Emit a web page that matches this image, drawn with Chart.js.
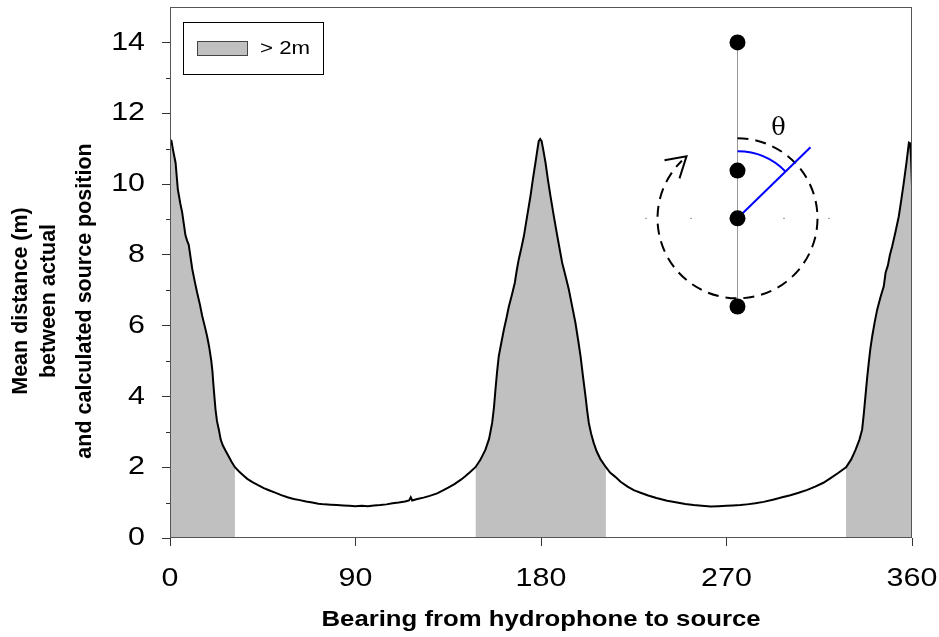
<!DOCTYPE html>
<html>
<head>
<meta charset="utf-8">
<script src="https://cdn.jsdelivr.net/npm/chart.js@4/dist/chart.umd.min.js"></script>
<style>
  body { margin: 0; background: #fff; }
  #wrap { width: 939px; height: 637px; }
</style>
</head>
<body>
<div id="wrap"><canvas id="chart" width="939" height="637"></canvas></div>
<script>
// bearing (deg) vs mean distance (m)
const bearing = [
  0, 0.7, 1.5, 2.7, 3.8, 5.0, 5.9, 7.5, 8.3, 9.1, 10.8, 12.0, 13.2, 14.5, 15.6, 17.0, 18.0, 19.0, 20.0, 20.6,
  21.0, 21.6, 22.1, 22.8, 23.7, 24.6, 25.6, 26.9, 28.5, 30.0, 31.5, 33.5, 35.5, 37.5, 40, 42.5, 45.5, 48, 51, 54,
  57, 60, 63, 66, 69, 72, 75, 78, 81, 84, 87, 90, 93, 96, 99, 102, 105, 108, 111, 114,
  116, 116.8, 117.5, 120, 123, 126, 129.6, 132, 135, 138, 141, 143.4, 145.5, 148.2, 150.5, 153, 154.8, 156.3, 157.2, 157.9,
  158.7, 159.5, 160.7, 162, 163.2, 164.4, 165.8, 167.3, 168.2, 169.2, 170.5, 171.7, 173.3, 174.9, 176.1, 177.3, 178.2, 178.9, 179.6, 180.3,
  181, 182.2, 183.4, 184.6, 186.2, 187.9, 189.1, 190.3, 191.9, 193.5, 195.1, 196.7, 198, 199.2, 200.4, 201.6, 202.4, 203.2, 204.3, 205.6,
  207, 208.9, 211.5, 213.5, 216.2, 218.6, 222, 225, 228.3, 232, 236, 241.2, 246, 250, 254, 258, 262.3, 266, 270, 273,
  276.8, 280, 284, 288, 293, 297, 301, 305, 309.2, 313, 317, 320.5, 324, 328, 330.5, 332.6, 334.5, 335.8, 336.6, 337.4,
  338.2, 339, 339.8, 340.7, 341.9, 343.1, 344.7, 346.3, 347.2, 348.3, 349.3, 350.4, 352, 353.6, 354.8, 356, 357.3, 358.5, 359.1, 359.5,
  360
];
const meanDist = [
  11.25, 11.22, 10.95, 10.6, 9.85, 9.45, 9.2, 8.55, 8.4, 8.28, 7.6, 7.25, 6.92, 6.6, 6.28, 5.95, 5.7, 5.4, 5.02, 4.7,
  4.38, 3.95, 3.62, 3.3, 3.06, 2.78, 2.62, 2.47, 2.3, 2.14, 2.0, 1.88, 1.77, 1.67, 1.58, 1.5, 1.41, 1.35, 1.28, 1.21,
  1.15, 1.1, 1.07, 1.03, 1.0, 0.97, 0.95, 0.94, 0.93, 0.92, 0.91, 0.9, 0.91, 0.9, 0.92, 0.93, 0.95, 0.98, 1.0, 1.03,
  1.06, 1.15, 1.06, 1.1, 1.14, 1.19, 1.26, 1.33, 1.42, 1.52, 1.64, 1.75, 1.86, 2.0, 2.2, 2.49, 2.8, 3.25, 3.7, 4.19,
  4.7, 5.13, 5.5, 5.89, 6.2, 6.54, 6.85, 7.21, 7.55, 7.87, 8.2, 8.53, 9.1, 9.66, 10.15, 10.6, 10.95, 11.21, 11.27, 11.21,
  11.0, 10.6, 10.1, 9.66, 9.1, 8.53, 8.15, 7.77, 7.4, 7.02, 6.55, 6.08, 5.6, 5.13, 4.55, 4.0, 3.6, 3.25, 2.95, 2.68,
  2.45, 2.22, 2.0, 1.85, 1.72, 1.59, 1.45, 1.35, 1.28, 1.2, 1.13, 1.05, 1.0, 0.96, 0.93, 0.91, 0.89, 0.9, 0.91, 0.92,
  0.93, 0.95, 0.98, 1.02, 1.09, 1.15, 1.21, 1.28, 1.36, 1.45, 1.56, 1.69, 1.83, 2.0, 2.22, 2.49, 2.78, 3.06, 3.5, 4.0,
  4.5, 4.94, 5.35, 5.7, 6.1, 6.45, 6.8, 7.11, 7.5, 7.7, 8.0, 8.24, 8.65, 9.09, 9.55, 10.03, 10.6, 11.17, 11.15, 10.8,
  9.95
];
const threshold = 2;
const xTicks = [0, 90, 180, 270, 360];
const yTicks = [0, 2, 4, 6, 8, 10, 12, 14];
const shadeLabel = '> 2m';
const xTitle = 'Bearing from hydrophone to source';
const yTitle = ['Mean distance (m)', 'between actual', 'and calculated source position'];

const linePts = bearing.map((b, i) => ({ x: b, y: meanDist[i] }));
const shadePts = bearing.map((b, i) => ({ x: b, y: meanDist[i] >= threshold ? meanDist[i] : null }));

const FONT = '"Liberation Sans", Arial, sans-serif';
const WIDE = 1.17; // labels in this figure are set a bit wider than plain Arial

function wideText(ctx, text, x, y, align) {
  ctx.save();
  ctx.translate(x, y);
  ctx.scale(WIDE, 1);
  ctx.textAlign = align;
  ctx.fillText(text, 0, 0);
  ctx.restore();
}

// box round the plot, minor y ticks, labels, legend and the bearing sketch
const extras = {
  id: 'extras',
  afterDraw(chart) {
    const ctx = chart.ctx;
    const a = chart.chartArea;
    const xs = chart.scales.x, ys = chart.scales.y;
    ctx.save();

    ctx.strokeStyle = '#555';
    ctx.lineWidth = 1;
    ctx.strokeRect(Math.round(a.left) + 0.5, Math.round(a.top) + 0.5,
      Math.round(a.right - a.left) - 1, Math.round(a.bottom - a.top) - 1);

    // minor ticks at odd metres
    ctx.strokeStyle = '#333';
    for (let v = 1; v < 15; v += 2) {
      const y = Math.round(ys.getPixelForValue(v)) + 0.5;
      ctx.beginPath();
      ctx.moveTo(a.left - 4, y);
      ctx.lineTo(a.left, y);
      ctx.stroke();
    }

    // tick labels
    ctx.fillStyle = '#000';
    ctx.textBaseline = 'middle';
    ctx.font = '26px ' + FONT;
    ys.ticks.forEach(t => wideText(ctx, String(t.value), a.left - 25, ys.getPixelForValue(t.value), 'right'));
    xs.ticks.forEach(t => wideText(ctx, String(t.value), xs.getPixelForValue(t.value), a.bottom + 41, 'center'));

    // axis titles
    ctx.font = 'bold 22px ' + FONT;
    wideText(ctx, xTitle, (a.left + a.right) / 2, 620, 'center');
    ctx.font = 'bold 21.5px ' + FONT;
    ctx.textAlign = 'center';
    const titleX = [21, 49, 85];
    yTitle.forEach((t, i) => {
      ctx.save();
      ctx.translate(titleX[i], 301);
      ctx.rotate(-Math.PI / 2);
      ctx.fillText(t, 0, 0);
      ctx.restore();
    });

    // legend
    const ds = chart.data.datasets[1];
    const lx = Math.round(a.left) + 13, ly = Math.round(a.top) + 15;
    ctx.strokeStyle = '#000';
    ctx.strokeRect(lx + 0.5, ly + 0.5, 140, 52);
    ctx.fillStyle = ds.backgroundColor;
    ctx.fillRect(lx + 14, ly + 19, 50, 14);
    ctx.strokeStyle = '#444';
    ctx.strokeRect(lx + 14.5, ly + 19.5, 50, 14);
    ctx.fillStyle = '#000';
    ctx.font = '19px ' + FONT;
    wideText(ctx, ds.label, lx + 77, ly + 27, 'left');

    // sketch: hydrophone line, source positions, bearing angle
    const cx = Math.round(xs.getPixelForValue(275.3)) + 0.5;
    const cy = ys.getPixelForValue(9.03);
    const dots = [14.0, 10.38, 9.03, 6.54].map(v => ys.getPixelForValue(v));
    ctx.strokeStyle = '#999';
    ctx.lineWidth = 1;
    ctx.beginPath();
    ctx.moveTo(cx, dots[0]);
    ctx.lineTo(cx, dots[3]);
    ctx.stroke();
    ctx.fillStyle = '#999';
    [-92, -47, 46, 91].forEach(dx => ctx.fillRect(cx + dx - 0.5, cy - 0.5, 2, 1));
    [-133, -89].forEach(dy => ctx.fillRect(cx - 0.5, cy + dy, 1, 2));

    // dashed rotation circle with open arrowhead
    ctx.strokeStyle = '#000';
    ctx.lineWidth = 2;
    ctx.setLineDash([11, 7]);
    ctx.beginPath();
    ctx.arc(cx, cy, 80, -Math.PI / 2, 226 * Math.PI / 180, false);
    ctx.stroke();
    ctx.setLineDash([]);
    ctx.beginPath();
    ctx.moveTo(cx - 73, cy - 58);
    ctx.lineTo(cx - 51, cy - 62);
    ctx.lineTo(cx - 58, cy - 40);
    ctx.stroke();

    ctx.strokeStyle = '#0000ff';
    ctx.lineWidth = 2;
    ctx.beginPath();
    ctx.moveTo(cx, cy);
    ctx.lineTo(cx + 73, cy - 71);
    ctx.stroke();
    ctx.beginPath();
    ctx.arc(cx, cy, 67, -Math.PI / 2, -44 * Math.PI / 180, false);
    ctx.stroke();

    ctx.fillStyle = '#000';
    dots.forEach(y => {
      ctx.beginPath();
      ctx.arc(cx, y, 8, 0, Math.PI * 2);
      ctx.fill();
    });

    ctx.font = '24px "DejaVu Serif", "Liberation Serif", serif';
    ctx.textAlign = 'center';
    ctx.fillText('θ', cx + 41, cy - 90);
    ctx.restore();
  }
};

new Chart(document.getElementById('chart').getContext('2d'), {
  type: 'line',
  data: {
    datasets: [{
      label: 'mean distance',
      data: linePts,
      borderColor: '#000',
      borderWidth: 2,
      pointRadius: 0,
      tension: 0,
      fill: false,
      order: 0
    }, {
      label: shadeLabel,
      data: shadePts,
      borderWidth: 0,
      borderColor: 'rgba(0,0,0,0)',
      backgroundColor: '#c0c0c0',
      pointRadius: 0,
      tension: 0,
      spanGaps: false,
      fill: 'origin',
      order: 1
    }]
  },
  options: {
    responsive: false,
    animation: false,
    layout: { padding: { left: 0, top: 7, right: 27, bottom: 0 } },
    plugins: { legend: { display: false }, tooltip: { enabled: false } },
    scales: {
      x: {
        type: 'linear',
        min: 0,
        max: 360,
        afterBuildTicks: s => { s.ticks = xTicks.map(v => ({ value: v })); },
        afterFit: s => { s.height = 99; s.paddingLeft = 0; s.paddingRight = 0; },
        border: { display: false },
        grid: { drawOnChartArea: false, drawTicks: true, tickLength: 8, tickColor: '#333' },
        ticks: { color: 'rgba(0,0,0,0)', maxRotation: 0, font: { family: FONT, size: 26 } }
      },
      y: {
        min: 0,
        max: 15,
        afterBuildTicks: s => { s.ticks = yTicks.map(v => ({ value: v })); },
        afterFit: s => { s.width = 170; s.paddingTop = 0; s.paddingBottom = 0; },
        border: { display: false },
        grid: { drawOnChartArea: false, drawTicks: true, tickLength: 8, tickColor: '#333' },
        ticks: { color: 'rgba(0,0,0,0)', font: { family: FONT, size: 26 } }
      }
    }
  },
  plugins: [extras]
});
</script>
</body>
</html>
